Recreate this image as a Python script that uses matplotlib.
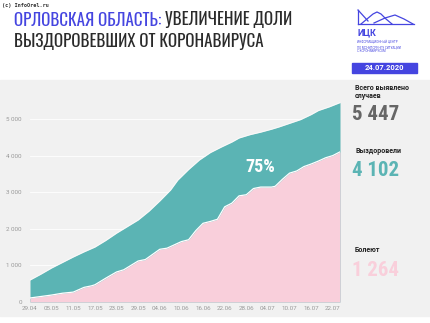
import matplotlib.pyplot as plt
from matplotlib import font_manager
from matplotlib.patches import Rectangle

# x axis: day number counted from 29.04
tick_days = [0, 6, 12, 18, 24, 30, 36, 42, 48, 54, 60, 66, 72, 78, 84]
tick_labels = ["29.04", "05.05", "11.05", "17.05", "23.05", "29.05", "04.06", "10.06",
               "16.06", "22.06", "28.06", "04.07", "10.07", "16.07", "22.07"]
y_ticks = [0, 1000, 2000, 3000, 4000, 5000]
y_labels = ["0", "1 000", "2 000", "3 000", "4 000", "5 000"]

# total confirmed cases
total_days = [0, 3, 6, 9, 12, 15, 18, 21, 24, 27, 30, 33, 36, 39, 41, 44, 47, 50, 53,
              56, 58, 61, 64, 67, 69, 72, 75, 78, 80, 83, 86]
total_cases = [600, 760, 930, 1080, 1230, 1370, 1500, 1680, 1880, 2060, 2240, 2480, 2760,
               3060, 3330, 3620, 3880, 4080, 4230, 4370, 4480, 4570, 4640, 4720, 4780,
               4880, 4980, 5120, 5230, 5330, 5447]

# recovered
rec_days = [0, 3, 6, 9, 12, 15, 17, 18, 21, 24, 26, 28, 30, 32, 34, 36, 38, 40, 42, 44,
            46, 48, 50, 52, 54, 56, 58, 60, 62, 64, 67, 68, 70, 72, 74, 76, 78, 80, 82,
            84, 86]
recovered = [110, 150, 190, 240, 270, 400, 440, 470, 650, 820, 880, 1000, 1120, 1160, 1300,
             1440, 1470, 1560, 1650, 1700, 1950, 2150, 2200, 2260, 2600, 2700, 2900, 2930,
             3100, 3140, 3140, 3160, 3350, 3520, 3580, 3700, 3770, 3850, 3940, 4000, 4102]

# numbers in the right panel
total_now = "5 447"
recovered_now = "4 102"
ill_now = "1 264"
share = "75%"

teal = "#5bb4b4"
pink = "#f9cfdb"
blue = "#4545e0"

installed = {f.name for f in font_manager.fontManager.ttflist}


def pick(*names):
    for n in names:
        if n in installed:
            return n
    return "DejaVu Sans"


title_font = pick("Oswald", "Bebas Neue", "PT Sans Narrow", "Roboto Condensed")
num_font = pick("Roboto Condensed", "Archivo Narrow", "PT Sans Narrow", "Arimo")
label_font = pick("Roboto", "Arimo", "Liberation Sans")


def px(x, y):
    # pixel position (from top-left) -> figure fraction
    return x / 430, 1 - y / 323


def logo_line(fig, xs, ys):
    fx = [x / 430 for x in xs]
    fy = [1 - y / 323 for y in ys]
    fig.lines.append(plt.Line2D(fx, fy, transform=fig.transFigure, color=blue, lw=0.9,
                                solid_joinstyle="round"))


def main():
    fig = plt.figure(figsize=(4.3, 3.23), dpi=100)
    fig.patch.set_facecolor("white")

    # grey band behind the chart
    fig.patches.append(Rectangle((0, 1 - 316 / 323), 1, 236 / 323, transform=fig.transFigure,
                                 color="#f1f1f1", zorder=-5))

    ax = fig.add_axes([30 / 430, 1 - 302 / 323, 310 / 430, 212.3 / 323])
    ax.set_facecolor("none")
    for s in ax.spines.values():
        s.set_visible(False)

    for v in y_ticks[1:]:
        ax.axhline(v, color="white", lw=0.6, zorder=1)

    ax.fill_between(total_days, 0, total_cases, color=teal, lw=0, zorder=2)
    ax.plot(total_days, total_cases, color="white", lw=0.6, alpha=0.7, zorder=3)
    ax.fill_between(rec_days, 0, recovered, color=pink, lw=0, zorder=4)
    ax.plot(rec_days, recovered, color="white", lw=0.9, zorder=5)

    ax.set_xlim(0, 86)
    ax.set_ylim(0, 5800)
    ax.set_xticks(tick_days)
    ax.set_xticklabels(tick_labels, family=label_font)
    ax.set_yticks(y_ticks)
    ax.set_yticklabels(y_labels, family=label_font)
    ax.tick_params(length=0, labelsize=4.5, labelcolor="#999999")
    ax.tick_params(axis="y", pad=6)
    ax.tick_params(axis="x", pad=3)

    ax.text(64, 3700, share, color="white", fontsize=13, fontweight="bold",
            ha="center", va="center", family=num_font, zorder=6)

    # header
    fig.text(*px(2, 6), "(c) InfoOrel.ru", fontsize=3.8, family="DejaVu Sans Mono",
             fontweight="bold", color="#333333", va="center")
    t1 = fig.text(*px(14, 20), "ОРЛОВСКАЯ ОБЛАСТЬ: ", fontsize=12.2,
                  fontweight="bold", family=title_font, color=blue, va="center")
    ax.annotate("УВЕЛИЧЕНИЕ ДОЛИ", xy=(1, 0.5), xycoords=t1, va="center", ha="left",
                fontsize=12.2, fontweight="bold", family=title_font, color="#2b2b2b",
                annotation_clip=False)
    fig.text(*px(14, 42), "ВЫЗДОРОВЕВШИХ ОТ КОРОНАВИРУСА", fontsize=12.2,
             fontweight="bold", family=title_font, color="#2b2b2b", va="center")

    # logo
    logo_line(fig, [358, 358], [10, 24])
    logo_line(fig, [358, 368], [10, 21])
    logo_line(fig, [361, 367, 373, 377, 381, 386, 392], [24, 19, 14, 12, 14, 19, 24])
    logo_line(fig, [374, 385, 395, 404, 413], [23, 18, 15, 19, 24])
    logo_line(fig, [358, 414], [24, 24])
    fig.text(*px(357, 33), "ИЦК", fontsize=6.5, fontweight="bold", color=blue,
             va="center", family=label_font)
    fig.text(*px(357, 47),
             "ИНФОРМАЦИОННЫЙ ЦЕНТР\nПО МОНИТОРИНГУ СИТУАЦИИ\nС КОРОНАВИРУСОМ",
             fontsize=2.2, color=blue, va="center", linespacing=1.1, family=label_font)
    fig.patches.append(Rectangle(px(352, 73), 65 / 430, 10 / 323,
                                 transform=fig.transFigure, color=blue, zorder=1))
    fig.text(*px(384.5, 68), "24.07.2020", fontsize=5.5, fontweight="bold",
             color="white", ha="center", va="center", zorder=2, family=label_font)

    # right panel
    fig.text(*px(355, 92), "Всего выявлено\nслучаев", fontsize=5, fontweight="bold",
             color="#222222", va="center", linespacing=1.1, family=label_font)
    fig.text(*px(352, 115), total_now, fontsize=15, fontweight="bold",
             family=num_font, color="#666666", va="center")
    fig.text(*px(355, 151), "Выздоровели", fontsize=5, fontweight="bold",
             color="#222222", va="center", family=label_font)
    fig.text(*px(352, 170), recovered_now, fontsize=15, fontweight="bold",
             family=num_font, color=teal, va="center")
    fig.text(*px(355, 250), "Болеют", fontsize=5, fontweight="bold",
             color="#222222", va="center", family=label_font)
    fig.text(*px(352, 270), ill_now, fontsize=15, fontweight="bold",
             family=num_font, color=pink, va="center")

    fig.savefig("out.png", dpi=100)


if __name__ == "__main__":
    main()
